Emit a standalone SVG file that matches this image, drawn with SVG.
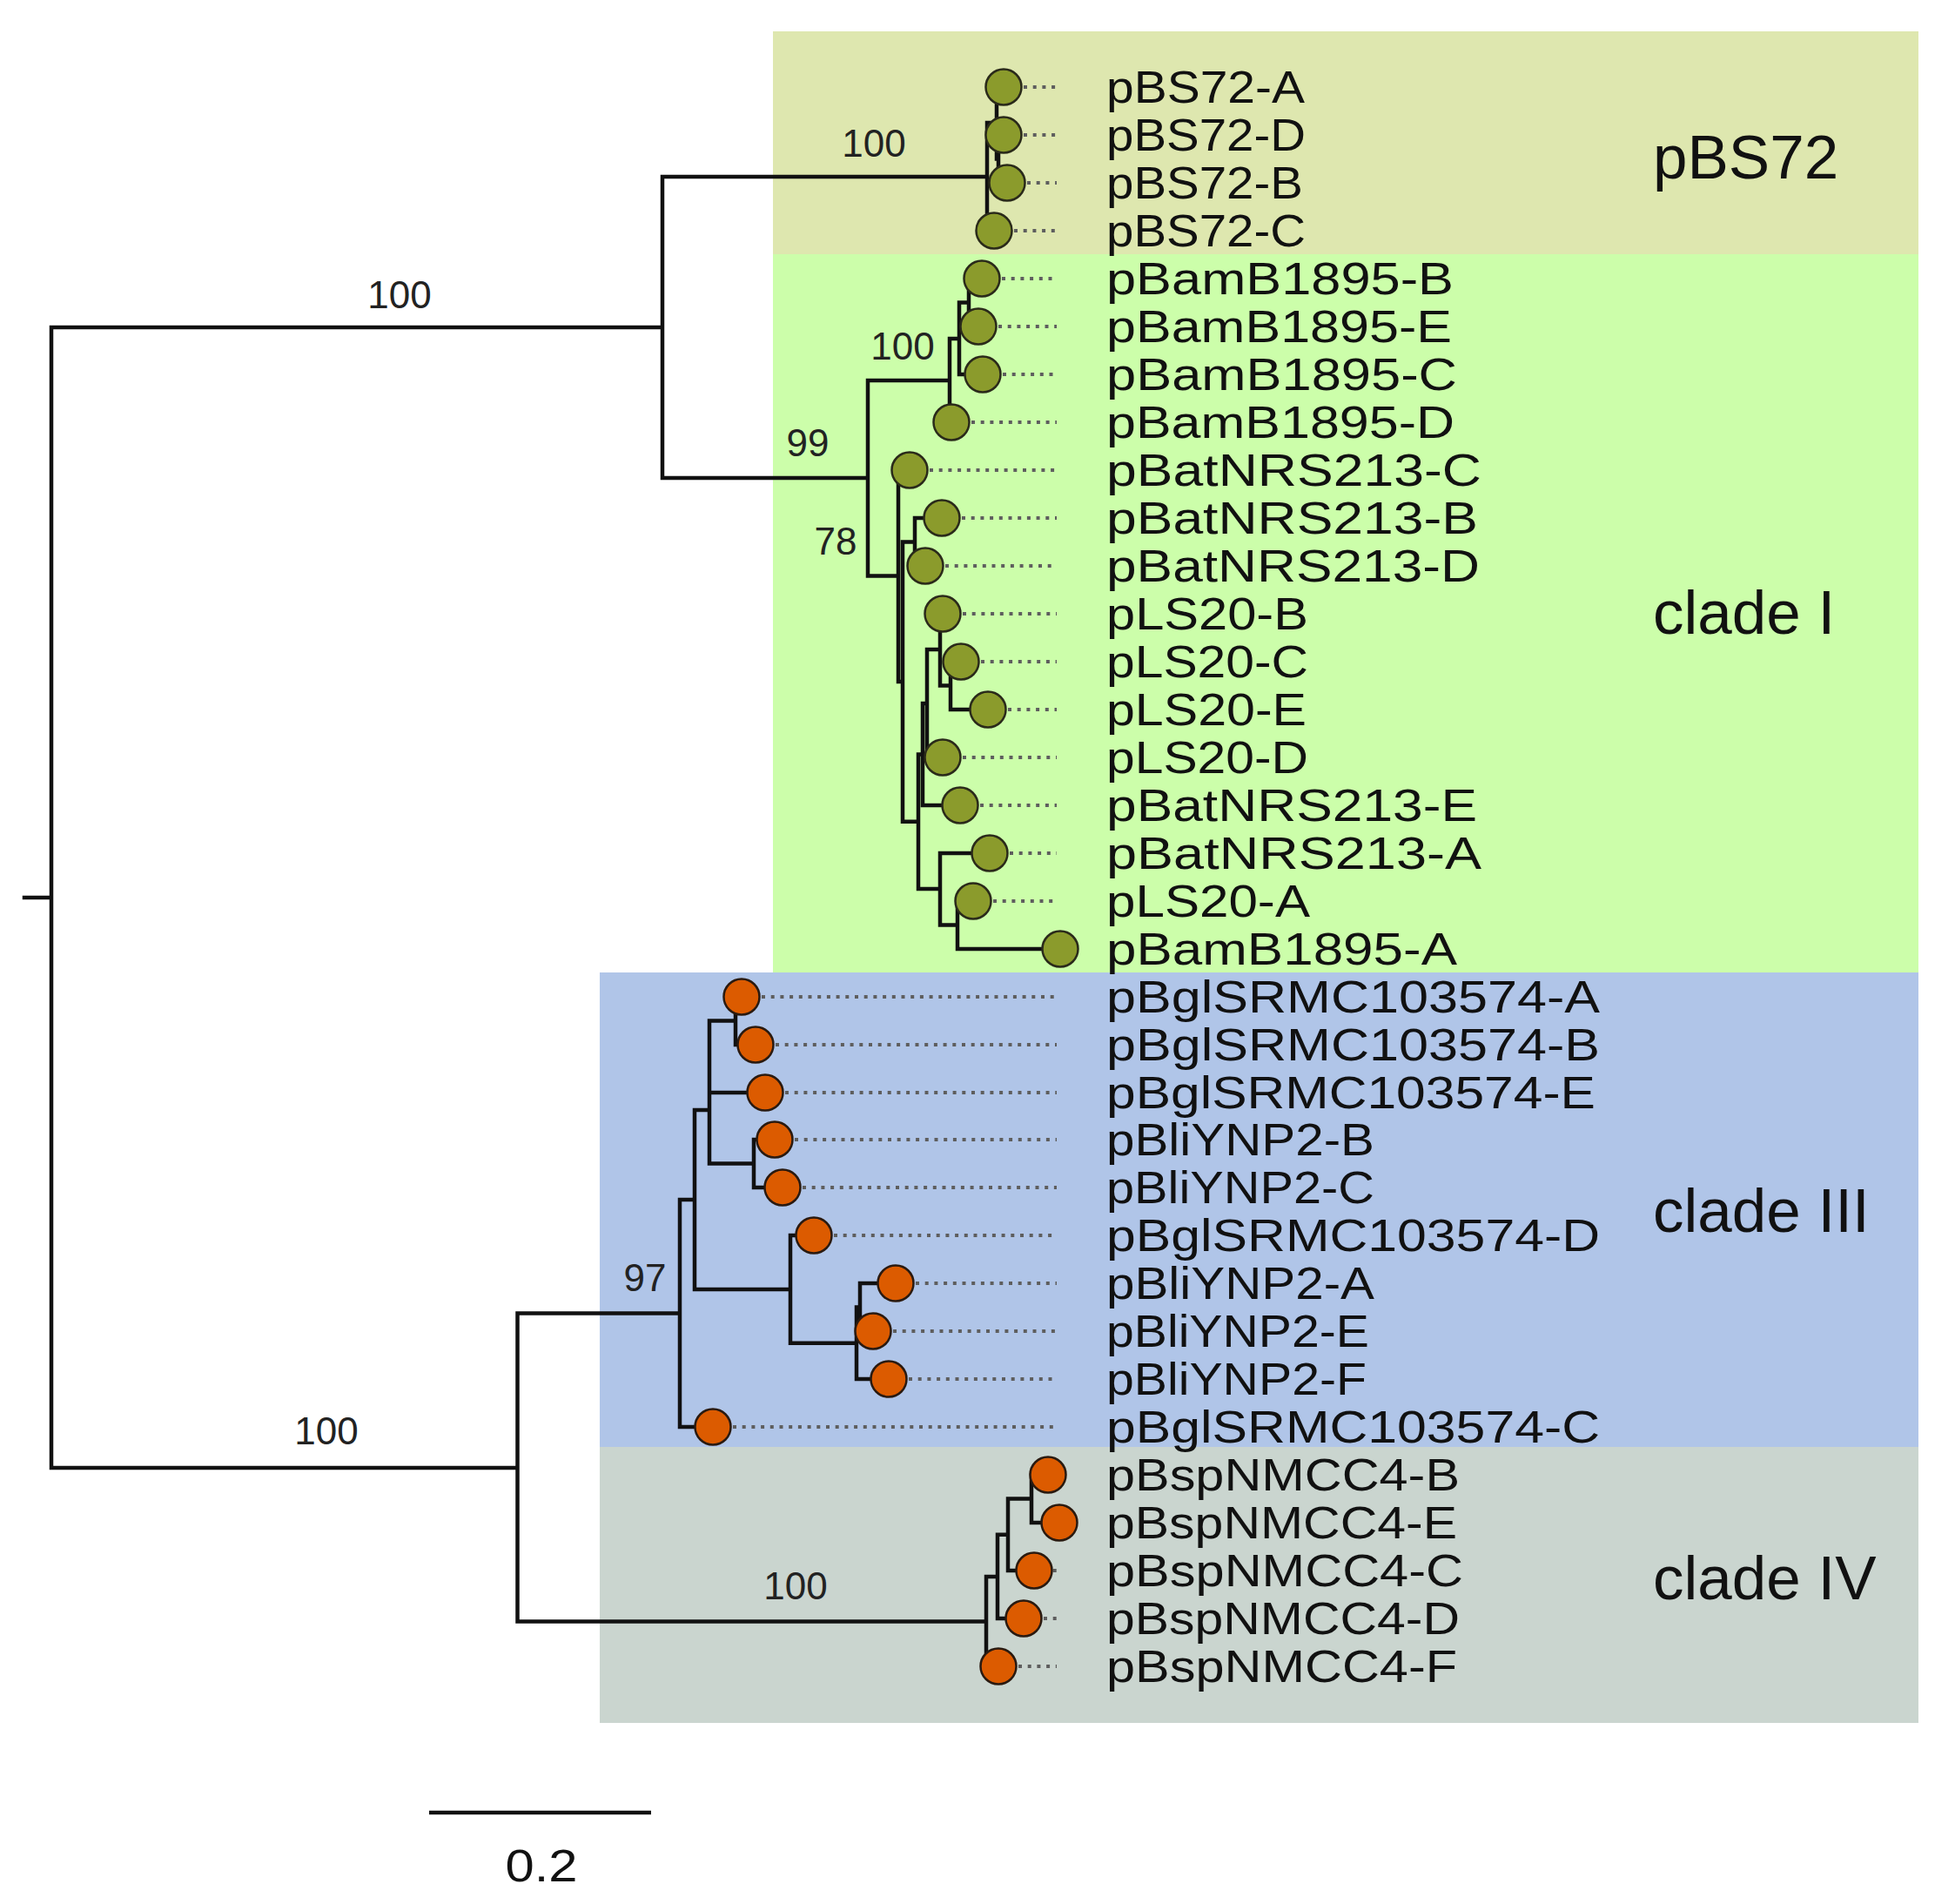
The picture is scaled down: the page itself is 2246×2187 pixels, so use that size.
<svg xmlns="http://www.w3.org/2000/svg" width="2246" height="2187" viewBox="0 0 2246 2187">
<style>
.br{fill:none;stroke:#111;stroke-width:4.5;stroke-linecap:square;stroke-linejoin:miter}
.dot{fill:none;stroke:#5e5e5e;stroke-width:4;stroke-dasharray:4 6.7}
.g{fill:#8b9b2c;stroke:#2a2a1a;stroke-width:2.5}
.o{fill:#dc5b00;stroke:#2a1a10;stroke-width:2.5}
.lb{font-family:"Liberation Sans",Arial,sans-serif;font-size:52px;fill:#111}
.bs{font-family:"Liberation Sans",Arial,sans-serif;font-size:44px;fill:#222;text-anchor:middle}
.cl{font-family:"Liberation Sans",Arial,sans-serif;font-size:71px;fill:#111}
</style>
<rect width="2246" height="2187" fill="#ffffff"/>
<g id="clade-boxes">
<rect id="box-pBS72" x="888" y="36" width="1316" height="256" fill="#dee7af"/>
<rect id="box-cladeI" x="888" y="292" width="1316" height="825" fill="#ccfeaa"/>
<rect id="box-cladeIII" x="689" y="1117" width="1515" height="545" fill="#b0c5e8"/>
<rect id="box-cladeIV" x="689" y="1662" width="1515" height="317" fill="#cad5cf"/>
</g>
<g id="clade-labels">
<text class="cl" x="1899" y="205">pBS72</text>
<text class="cl" x="1899" y="728">clade I</text>
<text class="cl" x="1899" y="1415">clade III</text>
<text class="cl" x="1899" y="1837">clade IV</text>
</g>
<g id="connectors">
<path class="br" d="M28 1031H59M59 376V1686M59 376H761M59 1686H594.5
M761 203V549M761 203H1134M761 549H997
M1134 141V265H1142M1134 141H1145
M1145 100V182.5H1147M1145 100H1153
M1147 155V210H1157M1147 155H1153
M997 437V661.5M997 437H1091M997 661.5H1032
M1091 389V485H1093M1091 389H1102
M1102 347.5V430H1129M1102 347.5H1113
M1113 320V375H1124M1113 320H1128
M1032 540V783H1037M1032 540H1045
M1037 622.5V943.7H1055M1037 622.5H1051
M1051 595V650H1063M1051 595H1082
M1055 866.5V1021H1080M1055 866.5H1060
M1060 808V925H1103M1060 808H1065
M1065 746V870H1083M1065 746H1080
M1080 705V787.5H1092M1080 705H1083
M1092 760V815H1135M1092 760H1104
M1080 980V1062.5H1100M1080 980H1137
M1100 1035V1090H1218M1100 1035H1118
M594.5 1508.5V1862.4M594.5 1508.5H781M594.5 1862.4H1133
M781 1378V1639H819M781 1378H798
M798 1275V1481H908M798 1275H815
M815 1172.5V1336.5H866M815 1172.5H845M815 1255H879
M845 1145V1200H868M845 1145H852
M866 1309V1364H899M866 1309H890
M908 1419V1542.7H984M908 1419H935
M984 1501.5V1584H1021M984 1501.5H988
M988 1474V1529H1003M988 1474H1029
M1133 1810.9V1914H1147M1133 1810.9H1146
M1146 1762.7V1859H1176M1146 1762.7H1158
M1158 1721.5V1804H1188M1158 1721.5H1185
M1185 1694V1749H1217M1185 1694H1204"/>
<path class="dot" d="M1176 100H1214M1176 155H1214M1180 210H1214M1165 265H1214
M1151 320H1214M1147 375H1214M1152 430H1214M1116 485H1214M1068 540H1214M1105 595H1214M1086 650H1214
M1106 705H1214M1127 760H1214M1158 815H1214M1106 870H1214M1126 925H1214M1160 980H1214M1141 1035H1214
M875 1145H1214M891 1200H1214M902 1255H1214M913 1309H1214M922 1364H1214M958 1419H1214M1052 1474H1214M1026 1529H1214M1044 1584H1214M842 1639H1214
M1199 1804H1214M1199 1859H1214M1170 1914H1214"/>
</g>
<g id="bootstrap">
<text class="bs" x="459" y="354">100</text>
<text class="bs" x="1004" y="180">100</text>
<text class="bs" x="1037" y="413">100</text>
<text class="bs" x="928" y="524">99</text>
<text class="bs" x="960" y="637">78</text>
<text class="bs" x="741" y="1483">97</text>
<text class="bs" x="375" y="1659">100</text>
<text class="bs" x="914" y="1837">100</text>
</g>
<g id="leaf-pBS72-A"><circle class="g" cx="1153" cy="100" r="20.5"/><text class="lb" x="1271" y="118" textLength="228" lengthAdjust="spacingAndGlyphs">pBS72-A</text></g>
<g id="leaf-pBS72-D"><circle class="g" cx="1153" cy="155" r="20.5"/><text class="lb" x="1271" y="173" textLength="229" lengthAdjust="spacingAndGlyphs">pBS72-D</text></g>
<g id="leaf-pBS72-B"><circle class="g" cx="1157" cy="210" r="20.5"/><text class="lb" x="1271" y="228" textLength="226" lengthAdjust="spacingAndGlyphs">pBS72-B</text></g>
<g id="leaf-pBS72-C"><circle class="g" cx="1142" cy="265" r="20.5"/><text class="lb" x="1271" y="283" textLength="229" lengthAdjust="spacingAndGlyphs">pBS72-C</text></g>
<g id="leaf-pBamB1895-B"><circle class="g" cx="1128" cy="320" r="20.5"/><text class="lb" x="1271" y="338" textLength="399" lengthAdjust="spacingAndGlyphs">pBamB1895-B</text></g>
<g id="leaf-pBamB1895-E"><circle class="g" cx="1124" cy="375" r="20.5"/><text class="lb" x="1271" y="393" textLength="397" lengthAdjust="spacingAndGlyphs">pBamB1895-E</text></g>
<g id="leaf-pBamB1895-C"><circle class="g" cx="1129" cy="430" r="20.5"/><text class="lb" x="1271" y="448" textLength="403" lengthAdjust="spacingAndGlyphs">pBamB1895-C</text></g>
<g id="leaf-pBamB1895-D"><circle class="g" cx="1093" cy="485" r="20.5"/><text class="lb" x="1271" y="503" textLength="400" lengthAdjust="spacingAndGlyphs">pBamB1895-D</text></g>
<g id="leaf-pBatNRS213-C"><circle class="g" cx="1045" cy="540" r="20.5"/><text class="lb" x="1271" y="558" textLength="431" lengthAdjust="spacingAndGlyphs">pBatNRS213-C</text></g>
<g id="leaf-pBatNRS213-B"><circle class="g" cx="1082" cy="595" r="20.5"/><text class="lb" x="1271" y="613" textLength="427" lengthAdjust="spacingAndGlyphs">pBatNRS213-B</text></g>
<g id="leaf-pBatNRS213-D"><circle class="g" cx="1063" cy="650" r="20.5"/><text class="lb" x="1271" y="668" textLength="429" lengthAdjust="spacingAndGlyphs">pBatNRS213-D</text></g>
<g id="leaf-pLS20-B"><circle class="g" cx="1083" cy="705" r="20.5"/><text class="lb" x="1271" y="723" textLength="232" lengthAdjust="spacingAndGlyphs">pLS20-B</text></g>
<g id="leaf-pLS20-C"><circle class="g" cx="1104" cy="760" r="20.5"/><text class="lb" x="1271" y="778" textLength="232" lengthAdjust="spacingAndGlyphs">pLS20-C</text></g>
<g id="leaf-pLS20-E"><circle class="g" cx="1135" cy="815" r="20.5"/><text class="lb" x="1271" y="833" textLength="230" lengthAdjust="spacingAndGlyphs">pLS20-E</text></g>
<g id="leaf-pLS20-D"><circle class="g" cx="1083" cy="870" r="20.5"/><text class="lb" x="1271" y="888" textLength="232" lengthAdjust="spacingAndGlyphs">pLS20-D</text></g>
<g id="leaf-pBatNRS213-E"><circle class="g" cx="1103" cy="925" r="20.5"/><text class="lb" x="1271" y="943" textLength="426" lengthAdjust="spacingAndGlyphs">pBatNRS213-E</text></g>
<g id="leaf-pBatNRS213-A"><circle class="g" cx="1137" cy="980" r="20.5"/><text class="lb" x="1271" y="998" textLength="431" lengthAdjust="spacingAndGlyphs">pBatNRS213-A</text></g>
<g id="leaf-pLS20-A"><circle class="g" cx="1118" cy="1035" r="20.5"/><text class="lb" x="1271" y="1053" textLength="234" lengthAdjust="spacingAndGlyphs">pLS20-A</text></g>
<g id="leaf-pBamB1895-A"><circle class="g" cx="1218" cy="1090" r="20.5"/><text class="lb" x="1271" y="1108" textLength="403" lengthAdjust="spacingAndGlyphs">pBamB1895-A</text></g>
<g id="leaf-pBglSRMC103574-A"><circle class="o" cx="852" cy="1145" r="20.5"/><text class="lb" x="1271" y="1163" textLength="567" lengthAdjust="spacingAndGlyphs">pBglSRMC103574-A</text></g>
<g id="leaf-pBglSRMC103574-B"><circle class="o" cx="868" cy="1200" r="20.5"/><text class="lb" x="1271" y="1218" textLength="567" lengthAdjust="spacingAndGlyphs">pBglSRMC103574-B</text></g>
<g id="leaf-pBglSRMC103574-E"><circle class="o" cx="879" cy="1255" r="20.5"/><text class="lb" x="1271" y="1273" textLength="562" lengthAdjust="spacingAndGlyphs">pBglSRMC103574-E</text></g>
<g id="leaf-pBliYNP2-B"><circle class="o" cx="890" cy="1309" r="20.5"/><text class="lb" x="1271" y="1327" textLength="308" lengthAdjust="spacingAndGlyphs">pBliYNP2-B</text></g>
<g id="leaf-pBliYNP2-C"><circle class="o" cx="899" cy="1364" r="20.5"/><text class="lb" x="1271" y="1382" textLength="308" lengthAdjust="spacingAndGlyphs">pBliYNP2-C</text></g>
<g id="leaf-pBglSRMC103574-D"><circle class="o" cx="935" cy="1419" r="20.5"/><text class="lb" x="1271" y="1437" textLength="567" lengthAdjust="spacingAndGlyphs">pBglSRMC103574-D</text></g>
<g id="leaf-pBliYNP2-A"><circle class="o" cx="1029" cy="1474" r="20.5"/><text class="lb" x="1271" y="1492" textLength="308" lengthAdjust="spacingAndGlyphs">pBliYNP2-A</text></g>
<g id="leaf-pBliYNP2-E"><circle class="o" cx="1003" cy="1529" r="20.5"/><text class="lb" x="1271" y="1547" textLength="302" lengthAdjust="spacingAndGlyphs">pBliYNP2-E</text></g>
<g id="leaf-pBliYNP2-F"><circle class="o" cx="1021" cy="1584" r="20.5"/><text class="lb" x="1271" y="1602" textLength="299" lengthAdjust="spacingAndGlyphs">pBliYNP2-F</text></g>
<g id="leaf-pBglSRMC103574-C"><circle class="o" cx="819" cy="1639" r="20.5"/><text class="lb" x="1271" y="1657" textLength="567" lengthAdjust="spacingAndGlyphs">pBglSRMC103574-C</text></g>
<g id="leaf-pBspNMCC4-B"><circle class="o" cx="1204" cy="1694" r="20.5"/><text class="lb" x="1271" y="1712" textLength="406" lengthAdjust="spacingAndGlyphs">pBspNMCC4-B</text></g>
<g id="leaf-pBspNMCC4-E"><circle class="o" cx="1217" cy="1749" r="20.5"/><text class="lb" x="1271" y="1767" textLength="403" lengthAdjust="spacingAndGlyphs">pBspNMCC4-E</text></g>
<g id="leaf-pBspNMCC4-C"><circle class="o" cx="1188" cy="1804" r="20.5"/><text class="lb" x="1271" y="1822" textLength="410" lengthAdjust="spacingAndGlyphs">pBspNMCC4-C</text></g>
<g id="leaf-pBspNMCC4-D"><circle class="o" cx="1176" cy="1859" r="20.5"/><text class="lb" x="1271" y="1877" textLength="406" lengthAdjust="spacingAndGlyphs">pBspNMCC4-D</text></g>
<g id="leaf-pBspNMCC4-F"><circle class="o" cx="1147" cy="1914" r="20.5"/><text class="lb" x="1271" y="1932" textLength="403" lengthAdjust="spacingAndGlyphs">pBspNMCC4-F</text></g>
<g id="scale-bar">
<path d="M493 2082H748" fill="none" stroke="#111" stroke-width="4.5"/>
<text x="622" y="2161" font-family="Liberation Sans, Arial, sans-serif" font-size="52" fill="#111" text-anchor="middle" textLength="83" lengthAdjust="spacingAndGlyphs">0.2</text>
</g>
</svg>
